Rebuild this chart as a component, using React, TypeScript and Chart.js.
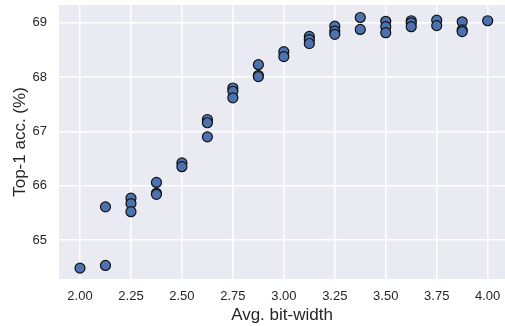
import React, { useEffect, useRef } from "react";
import { Chart, registerables } from "chart.js";

Chart.register(...registerables);

const bitWidths = [
  2.0,
  2.125, 2.125,
  2.25, 2.25, 2.25,
  2.375, 2.375, 2.375,
  2.5, 2.5,
  2.625, 2.625, 2.625,
  2.75, 2.75, 2.75,
  2.875, 2.875, 2.875,
  3.0, 3.0,
  3.125, 3.125, 3.125,
  3.25, 3.25, 3.25,
  3.375, 3.375,
  3.5, 3.5, 3.5,
  3.625, 3.625, 3.625,
  3.75, 3.75,
  3.875, 3.875, 3.875,
  4.0,
];

const top1Acc = [
  64.48,
  64.53, 65.61,
  65.77, 65.67, 65.52,
  66.06, 65.86, 65.84,
  66.42, 66.35,
  67.22, 67.16, 66.9,
  67.8, 67.74, 67.62,
  68.23, 68.03, 68.01,
  68.47, 68.38,
  68.75, 68.69, 68.62,
  68.94, 68.85, 68.79,
  69.1, 68.88,
  69.03, 68.93, 68.82,
  69.04, 69.0, 68.93,
  69.05, 68.95,
  69.02, 68.87, 68.84,
  69.04,
];

const xTicks = [2.0, 2.25, 2.5, 2.75, 3.0, 3.25, 3.5, 3.75, 4.0];
const yTicks = [65, 66, 67, 68, 69];

const bgPlugin = {
  id: "bgPlugin",
  beforeDraw(chart: any) {
    const { ctx, chartArea } = chart;
    ctx.save();
    ctx.fillStyle = "#ffffff";
    ctx.fillRect(0, 0, chart.width, chart.height);
    ctx.fillStyle = "#EAEAF2";
    ctx.fillRect(chartArea.left, chartArea.top, chartArea.right - chartArea.left, chartArea.bottom - chartArea.top);
    ctx.restore();
  },
};

const zeroPad = (s: any) => {
  s.paddingTop = 0;
  s.paddingBottom = 0;
  s.paddingLeft = 0;
  s.paddingRight = 0;
};

export default function App() {
  const ref = useRef<HTMLCanvasElement | null>(null);

  useEffect(() => {
    document.body.style.margin = "0";
    const canvas = ref.current;
    if (!canvas) return;
    const textColor = "#262626";
    const family = "'Liberation Sans', Arial, sans-serif";
    const chart = new Chart(canvas, {
      type: "scatter",
      data: {
        datasets: [
          {
            data: bitWidths.map((x, i) => ({ x, y: top1Acc[i] })),
            backgroundColor: "#4C72B0",
            borderColor: "#111111",
            borderWidth: 1.2,
            pointRadius: 5,
          },
        ],
      },
      options: {
        animation: false,
        responsive: false,
        layout: { autoPadding: false, padding: { top: 5, right: 0, left: 0, bottom: 0 } },
        plugins: { legend: { display: false }, tooltip: { enabled: false } },
        scales: {
          x: {
            type: "linear",
            min: 1.897,
            max: 4.085,
            afterFit: (s: any) => { s.height = 47; zeroPad(s); },
            afterBuildTicks: (s: any) => { s.ticks = xTicks.map((v) => ({ value: v })); },
            border: { display: false },
            grid: { color: "#ffffff", lineWidth: 1.5, drawTicks: false },
            ticks: {
              padding: 10,
              color: textColor,
              font: { family, size: 13 },
              callback: (v: any) => Number(v).toFixed(2),
              maxRotation: 0,
            },
            title: {
              display: true,
              text: "Avg. bit-width",
              color: textColor,
              font: { family, size: 17 },
              padding: { top: 0, bottom: 0 },
            },
          },
          y: {
            type: "linear",
            min: 64.28,
            max: 69.33,
            afterFit: (s: any) => { s.width = 59; zeroPad(s); },
            afterBuildTicks: (s: any) => { s.ticks = yTicks.map((v) => ({ value: v })); },
            border: { display: false },
            grid: { color: "#ffffff", lineWidth: 1.5, drawTicks: false },
            ticks: {
              padding: 12,
              color: textColor,
              font: { family, size: 13 },
              callback: (v: any) => String(v),
            },
            title: {
              display: true,
              text: "Top-1 acc. (%)",
              color: textColor,
              font: { family, size: 17 },
              padding: { top: 10, bottom: 0 },
            },
          },
        },
      },
      plugins: [bgPlugin],
    });
    return () => chart.destroy();
  }, []);

  return <canvas ref={ref} width={505} height={326} style={{ display: "block" }} />;
}
